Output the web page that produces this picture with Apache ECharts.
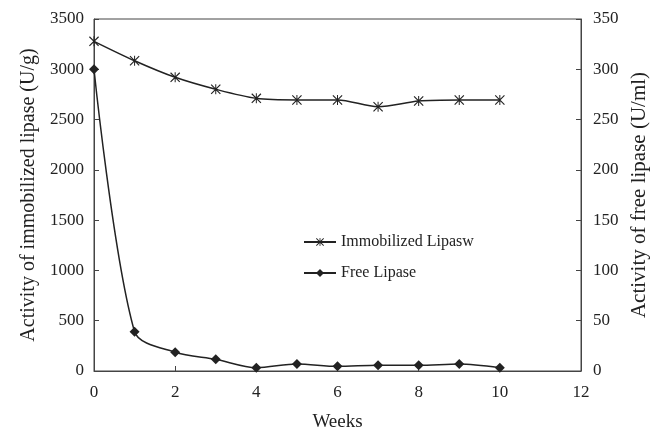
<!DOCTYPE html>
<html>
<head>
<meta charset="utf-8">
<script src="https://cdn.jsdelivr.net/npm/echarts@6/dist/echarts.min.js"></script>
<style>
  html, body { margin: 0; padding: 0; background: #fff; }
  #chart { width: 656px; height: 432px; }
</style>
</head>
<body>
<div id="chart"></div>
<script>
// weeks on the x axis
const weeks = [0, 1, 2, 3, 4, 5, 6, 7, 8, 9, 10];
// immobilized lipase activity (U/g), left axis
const immobilized = [3278, 3085, 2920, 2801, 2711, 2695, 2695, 2628, 2685, 2695, 2695];
// free lipase activity (U/ml), right axis
const free = [300, 39, 18.6, 11.6, 3.3, 7, 4.6, 5.6, 5.6, 7, 3.3];

const serif = 'Liberation Serif, Times New Roman, serif';
const ink = '#222';
const asterisk = 'path://M4.5,0L5.5,0L5.5,10L4.5,10ZM0,0.8L0.8,0L10,9.2L9.2,10ZM9.2,0L10,0.8L0.8,10L0,9.2Z';

const chart = echarts.init(document.getElementById('chart'));

const option = {
  animation: false,
  grid: {
    left: 94, right: 75, top: 19, bottom: 61,
    outerBoundsMode: 'none', containLabel: false,
    show: true, borderColor: '#444', borderWidth: 1
  },
  legend: {
    left: 298, top: 229, orient: 'vertical', itemGap: 15,
    itemWidth: 32, itemHeight: 10,
    textStyle: { fontFamily: serif, fontSize: 16, color: ink },
    data: ['Immobilized Lipasw', 'Free Lipase']
  },
  xAxis: {
    type: 'value', min: 0, max: 12, interval: 2,
    name: 'Weeks', nameLocation: 'middle', nameGap: 42,
    nameTextStyle: { fontFamily: serif, fontSize: 19, color: ink },
    axisLine: { lineStyle: { color: '#444' } },
    axisTick: { inside: true, length: 5, lineStyle: { color: '#444' } },
    axisLabel: { fontFamily: serif, fontSize: 17, color: ink, margin: 13 },
    splitLine: { show: false }
  },
  yAxis: [
    {
      type: 'value', min: 0, max: 3500, interval: 500,
      name: 'Activity of immobilized lipase (U/g)', nameLocation: 'middle', nameGap: 52,
      nameTextStyle: { fontFamily: serif, fontSize: 20, color: ink },
      axisLine: { show: true, lineStyle: { color: '#444' } },
      axisTick: { show: true, inside: true, length: 5, lineStyle: { color: '#444' } },
      axisLabel: { fontFamily: serif, fontSize: 17, color: ink, margin: 10, formatter: v => String(v) },
      splitLine: { show: false }
    },
    {
      type: 'value', min: 0, max: 350, interval: 50, position: 'right',
      name: 'Activity of free lipase (U/ml)', nameLocation: 'middle', nameGap: 48,
      nameRotate: 90,
      nameTextStyle: { fontFamily: serif, fontSize: 21, color: ink },
      axisLine: { show: true, lineStyle: { color: '#444' } },
      axisTick: { show: true, inside: true, length: 5, lineStyle: { color: '#444' } },
      axisLabel: { fontFamily: serif, fontSize: 17, color: ink, margin: 12 },
      splitLine: { show: false }
    }
  ],
  series: [
    {
      name: 'Immobilized Lipasw', type: 'line', yAxisIndex: 0, smooth: 0.3,
      symbol: asterisk, symbolSize: 10,
      data: weeks.map((w, i) => [w, immobilized[i]]),
      lineStyle: { color: ink, width: 1.5 },
      itemStyle: { color: ink }
    },
    {
      name: 'Free Lipase', type: 'line', yAxisIndex: 1, smooth: 0.3,
      symbol: 'diamond', symbolSize: 10,
      data: weeks.map((w, i) => [w, free[i]]),
      lineStyle: { color: ink, width: 1.5 },
      itemStyle: { color: ink }
    }
  ]
};

chart.setOption(option);
</script>
</body>
</html>
